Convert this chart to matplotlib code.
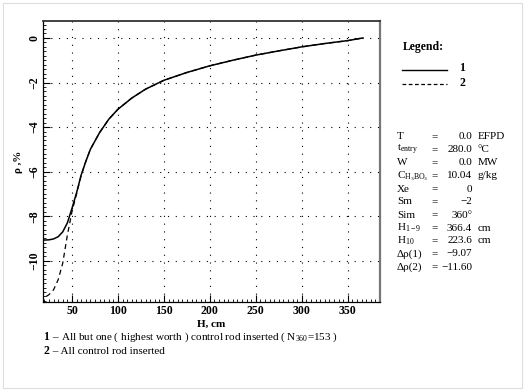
import matplotlib
matplotlib.use("Agg")
import matplotlib.pyplot as plt
from matplotlib.ticker import MultipleLocator
from matplotlib.patches import Rectangle

# Data
h1 = [20, 25, 30, 35, 40, 45, 50, 55, 60, 65, 70, 80, 90, 100, 115, 130, 150,
      175, 200, 225, 250, 275, 300, 325, 350, 366.4]
rho1 = [-9.07, -9.06, -9.02, -8.92, -8.70, -8.30, -7.65, -6.95, -6.15, -5.55,
        -5.00, -4.25, -3.65, -3.20, -2.70, -2.30, -1.90, -1.55, -1.25, -1.00,
        -0.77, -0.58, -0.40, -0.25, -0.12, 0.0]
h2 = [22, 25, 30, 35, 40, 45, 50, 55, 60, 65, 70, 80, 90, 100, 115, 130, 150,
      175, 200, 225, 250, 275, 300, 325, 350, 366.4]
rho2 = [-11.60, -11.52, -11.30, -10.85, -10.10, -8.85, -7.80, -7.00, -6.17,
        -5.55, -5.00, -4.25, -3.65, -3.20, -2.70, -2.30, -1.90, -1.55, -1.25,
        -1.00, -0.77, -0.58, -0.40, -0.25, -0.12, 0.0]
xticks = [50, 100, 150, 200, 250, 300, 350]
yticks = [0, -2, -4, -6, -8, -10]
param_names = ["T", "t$_{\\mathregular{entry}}$", "W",
               "C$_{\\mathregular{H_3BO_3}}$", "Xe", "Sm", "Sim",
               "H$_{\\mathregular{1-9}}$", "H$_{\\mathregular{10}}$",
               "\u0394\u03c1(1)", "\u0394\u03c1(2)"]
param_values = ["0.0", "280.0", "0.0", "10.04", "0", "\u22122", "360\u00b0",
                "366.4", "223.6", "\u22129.07", "\u221211.60"]
param_units = ["EFPD", "\u00b0C", "MW", "g/kg", "", "", "", "cm", "cm", "", ""]

plt.rcParams['font.family'] = ['Liberation Serif', 'DejaVu Serif']
plt.rcParams['mathtext.fontset'] = 'custom'
plt.rcParams['mathtext.rm'] = 'Liberation Serif'
plt.rcParams['mathtext.it'] = 'Liberation Serif:italic'
plt.rcParams['mathtext.bf'] = 'Liberation Serif:bold'

W, H = 525, 391
fig = plt.figure(figsize=(W / 100, H / 100), dpi=100)
fig.patches.append(Rectangle((3 / W, 3 / H), (W - 6) / W, (H - 6) / H,
                             transform=fig.transFigure, fill=False,
                             edgecolor='#dddddd', lw=0.8))

ax = fig.add_axes([43 / W, 1 - 302 / H, (380 - 43) / W, (302 - 21) / H])
ax.plot(h1, rho1, color='black', lw=1.1, ls='-')
ax.plot(h2, rho2, color='black', lw=0.9, ls=(0, (4, 3)))
ax.set_xlim(18.5, 385)
ax.set_ylim(-11.85, 0.76)

ax.set_xticks(xticks)
ax.set_yticks(yticks)
ax.set_yticklabels(["0" if v == 0 else "\u2212%d" % -v for v in yticks],
                   rotation=90, va='center')
ax.xaxis.set_minor_locator(MultipleLocator(5))
ax.yaxis.set_minor_locator(MultipleLocator(0.2))
ax.tick_params(which='major', direction='in', length=5, width=0.8,
               labelsize=8.5, pad=2)
ax.tick_params(which='minor', direction='in', length=2.5, width=0.6)
for lab in ax.get_xticklabels() + ax.get_yticklabels():
    lab.set_fontweight('bold')
ax.grid(True, which='major', color='black', ls=(0, (1, 6)), lw=0.8)

for s in ['left', 'bottom']:
    ax.spines[s].set_linewidth(0.9)
ax.spines['top'].set_linewidth(1.3)
ax.spines['top'].set_color('#333333')
ax.spines['right'].set_linewidth(1.6)
ax.spines['right'].set_color('#777777')

ax.set_xlabel("H, cm", fontsize=8, fontweight='bold', labelpad=2)
ax.set_ylabel("\u03c1 ,%", fontsize=8, fontweight='bold', labelpad=4)

# Legend block
fig.text(403 / W, 1 - 47 / H, "Legend:", fontsize=8.5, fontweight='bold',
         va='center')
fig.add_artist(plt.Line2D([402 / W, 447 / W], [1 - 70 / H] * 2,
                          color='black', lw=1.0, transform=fig.transFigure))
fig.add_artist(plt.Line2D([402 / W, 447 / W], [1 - 84 / H] * 2,
                          color='black', lw=0.9, ls=(0, (3, 2)),
                          transform=fig.transFigure))
fig.text(459 / W, 1 - 68 / H, "1", fontsize=8.5, fontweight='bold', va='center')
fig.text(459 / W, 1 - 83 / H, "2", fontsize=8.5, fontweight='bold', va='center')

# Parameter block
y0 = 137
dy = 13.0
for i, (n, v, u) in enumerate(zip(param_names, param_values, param_units)):
    y = 1 - (y0 + i * dy) / H
    fig.text(397 / W, y, n, fontsize=8, va='center')
    fig.text(431 / W, y, "=", fontsize=8, va='center')
    fig.text(472 / W, y, v, fontsize=8, va='center', ha='right')
    if u:
        fig.text(478 / W, y, u, fontsize=8, va='center')

# Footnotes
fig.text(43 / W, 1 - 337 / H, "1", fontsize=8.5, fontweight='bold', va='center')
fig.text(50 / W, 1 - 337 / H,
         " \u2013 All but one ( highest worth ) control rod inserted ( N$_{\\mathregular{360}}$=153 )",
         fontsize=8, va='center')
fig.text(43 / W, 1 - 351 / H, "2", fontsize=8.5, fontweight='bold', va='center')
fig.text(50 / W, 1 - 351 / H, " \u2013 All control rod inserted",
         fontsize=8, va='center')

fig.savefig("out.png", dpi=100)
